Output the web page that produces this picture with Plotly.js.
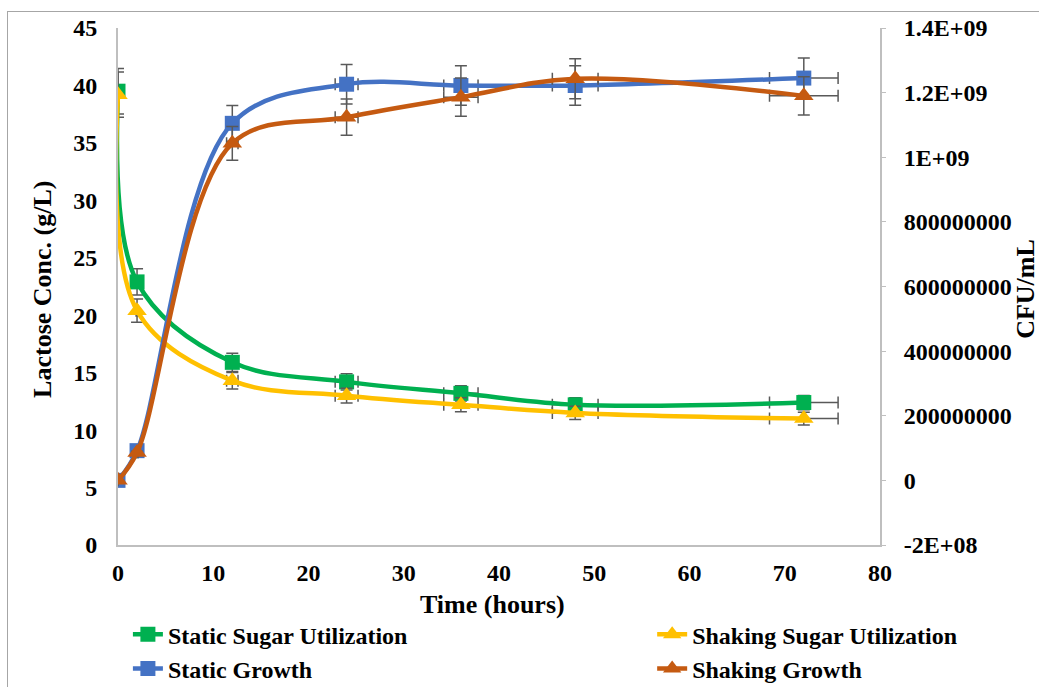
<!DOCTYPE html>
<html>
<head>
<meta charset="utf-8">
<script src="https://cdn.plot.ly/plotly-3.0.1.min.js"></script>
<style>
  html, body { margin: 0; padding: 0; background: #ffffff; overflow: hidden; }
  #frame { position: absolute; left: 7px; top: 11px; width: 1100px; height: 760px;
           border: 1px solid #a6a6a6; box-sizing: border-box; pointer-events: none; z-index: 5; }
  #chart { position: absolute; left: 0; top: 0; width: 1039px; height: 687px; }
</style>
</head>
<body>
<div id="chart"></div>
<div id="frame"></div>
<script>
// Sampling times (hours)
const hours = [0, 2, 12, 24, 36, 48, 72];

// Lactose concentration (g/L), primary axis
const staticSugar  = [39.5, 22.9, 15.9, 14.2, 13.2, 12.2, 12.4];
const shakingSugar = [39.2, 20.4, 14.3, 13.0, 12.2, 11.5, 11.0];

// Viable counts (CFU/mL), secondary axis
const staticGrowth  = [0, 9.2e7, 1.105e9, 1.226e9, 1.222e9, 1.222e9, 1.245e9];
const shakingGrowth = [0, 8.6e7, 1.043e9, 1.124e9, 1.186e9, 1.243e9, 1.19e9];

// Secondary axis tick labels
const cfuTickVals = [-2e8, 0, 2e8, 4e8, 6e8, 8e8, 1e9, 1.2e9, 1.4e9];
const cfuTickText = ["-2E+08", "0", "200000000", "400000000", "600000000",
                     "800000000", "1E+09", "1.2E+09", "1.4E+09"];

const FONT = "Liberation Serif, Times New Roman, serif";
const ERR_COLOR = "#595959";

function errBar() {
  return { type: "percent", value: 5, color: ERR_COLOR, thickness: 1.5, width: 6 };
}

function series(name, y, color, symbol, size, yaxis, legend) {
  return {
    type: "scatter", mode: "lines+markers", name: name,
    x: hours, y: y, yaxis: yaxis, legend: legend,
    line: { color: color, width: 4.5, shape: "spline", smoothing: 1 },
    marker: { color: color, symbol: symbol, size: size },
    error_x: errBar(), error_y: errBar()
  };
}

const traces = [
  series("Static Sugar Utilization",  staticSugar,  "#00B050", "square",      15, "y",  "legend"),
  series("Shaking Sugar Utilization", shakingSugar, "#FFC000", "triangle-up", 17, "y",  "legend2"),
  series("Static Growth",             staticGrowth, "#4472C4", "square",      15, "y2", "legend"),
  series("Shaking Growth",            shakingGrowth,"#C55A11", "triangle-up", 17, "y2", "legend2")
];

const tickFont = { family: FONT, size: 24, color: "#000000", weight: "bold" };
const titleFont = { family: FONT, size: 26, color: "#000000", weight: "bold" };
const legendFont = { family: FONT, size: 24, color: "#000000", weight: "bold" };

const layout = {
  width: 1039, height: 687,
  paper_bgcolor: "#ffffff", plot_bgcolor: "#ffffff",
  margin: { l: 118, r: 159, t: 28, b: 142, autoexpand: false },
  showlegend: true,
  xaxis: {
    range: [0, 80], dtick: 10, tick0: 0,
    showgrid: false, zeroline: false,
    showline: true, linecolor: "#bfbfbf", linewidth: 2,
    ticks: "", ticklabelstandoff: 5,
    tickfont: tickFont, automargin: false
  },
  yaxis: {
    range: [0, 45], dtick: 5, tick0: 0,
    showgrid: false, zeroline: false,
    showline: true, linecolor: "#bfbfbf", linewidth: 2,
    ticks: "", ticklabelstandoff: 14,
    tickfont: tickFont, automargin: false
  },
  yaxis2: {
    overlaying: "y", side: "right", anchor: "x",
    range: [-2e8, 1.4e9],
    tickmode: "array", tickvals: cfuTickVals, ticktext: cfuTickText,
    showgrid: false, zeroline: false,
    showline: true, linecolor: "#bfbfbf", linewidth: 2,
    ticks: "outside", ticklen: 4, tickcolor: "#bfbfbf", ticklabelstandoff: 13,
    tickfont: tickFont, automargin: false
  },
  legend: {
    orientation: "v", x: 0.013, xanchor: "left", y: -0.13, yanchor: "top",
    font: legendFont, bgcolor: "rgba(0,0,0,0)", traceorder: "normal", tracegroupgap: 0
  },
  legend2: {
    orientation: "v", x: 0.701, xanchor: "left", y: -0.13, yanchor: "top",
    font: legendFont, bgcolor: "rgba(0,0,0,0)", traceorder: "normal", tracegroupgap: 0
  },
  annotations: [
    { text: "Time (hours)", xref: "paper", yref: "paper", x: 0.492, y: -0.116,
      xanchor: "center", yanchor: "middle", showarrow: false, font: titleFont },
    { text: "Lactose Conc. (g/L)", xref: "paper", yref: "paper", x: -0.1, y: 0.495,
      xanchor: "center", yanchor: "middle", textangle: -90, showarrow: false, font: titleFont },
    { text: "CFU/mL", xref: "paper", yref: "paper", x: 1.19, y: 0.495,
      xanchor: "center", yanchor: "middle", textangle: -90, showarrow: false, font: titleFont }
  ]
};

Plotly.newPlot("chart", traces, layout, { displayModeBar: false, staticPlot: true });
</script>
</body>
</html>
